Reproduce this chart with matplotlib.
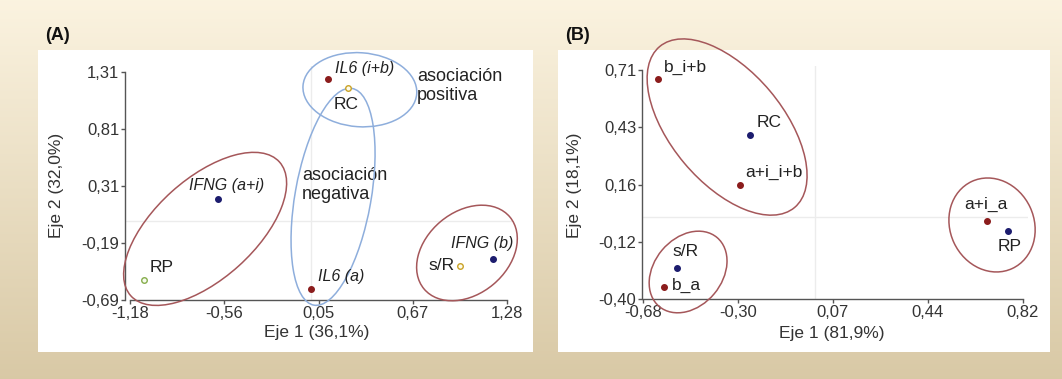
import numpy as np
import matplotlib
matplotlib.use("Agg")
import matplotlib.pyplot as plt
from matplotlib.patches import Ellipse, Rectangle
from matplotlib import transforms

plt.rcParams['font.family'] = ['Liberation Sans', 'DejaVu Sans']

# ---------------- Panel A data ----------------
a_labels = ["IL6 (i+b)", "RC", "IFNG (a+i)", "RP", "IL6 (a)", "IFNG (b)", "s/R"]
a_x = [0.11, 0.24, -0.605, -1.09, 0.00, 1.19, 0.975]
a_y = [1.25, 1.17, 0.195, -0.515, -0.59, -0.33, -0.39]
a_kind = ["il6", "rc", "ifng", "rp", "il6", "ifng", "rc"]
a_italic = [True, False, True, False, True, True, False]
a_xticks = [-1.18, -0.565, 0.05, 0.665, 1.28]
a_xticklabels = ["-1,18", "-0,56", "0,05", "0,67", "1,28"]
a_yticks = [-0.69, -0.19, 0.31, 0.81, 1.31]
a_yticklabels = ["-0,69", "-0,19", "0,31", "0,81", "1,31"]

# ---------------- Panel B data ----------------
b_labels = ["b_i+b", "RC", "a+i_i+b", "s/R", "b_a", "a+i_a", "RP"]
b_x = [-0.62, -0.257, -0.297, -0.546, -0.597, 0.68, 0.763]
b_y = [0.668, 0.396, 0.153, -0.25, -0.342, -0.021, -0.07]
b_kind = ["red", "blue", "red", "blue", "red", "red", "blue"]
b_xticks = [-0.68, -0.305, 0.07, 0.445, 0.82]
b_xticklabels = ["-0,68", "-0,30", "0,07", "0,44", "0,82"]
b_yticks = [-0.40, -0.1225, 0.155, 0.4325, 0.71]
b_yticklabels = ["-0,40", "-0,12", "0,16", "0,43", "0,71"]

# marker styles
styles = {
    "il6":  dict(mfc="#8b1c1c", mec="#8b1c1c"),
    "ifng": dict(mfc="#1c1c6e", mec="#1c1c6e"),
    "rc":   dict(mfc="#fffbe8", mec="#c9a227"),
    "rp":   dict(mfc="#f6fbef", mec="#86ad4c"),
    "red":  dict(mfc="#8b1c1c", mec="#8b1c1c"),
    "blue": dict(mfc="#1c1c6e", mec="#1c1c6e"),
}

# label offsets (points) and alignment
a_off = [(5, 7, "left"), (-1, -12, "center"), (6, 10, "center"), (4, 9, "left"),
         (5, 9, "left"), (-8, 11, "center"), (-4, 0, "right")]
b_off = [(4, 8, "left"), (5, 9, "left"), (4, 9, "left"), (-3, 12, "left"),
         (6, 1, "left"), (-1, 12, "center"), (1, -11, "center")]

# grouping ellipses: centre (data), width, height (inches), angle, colour
RED = "#a5575a"
BLUE = "#8eaedc"
a_ellipses = [((-0.69, -0.067), 2.00, 1.00, 42, RED),
              ((0.32, 1.152), 1.14, 0.74, -4, BLUE),
              ((0.145, 0.214), 2.20, 0.76, 80, BLUE),
              ((1.019, -0.278), 1.12, 0.82, 40, RED)]
b_ellipses = [((-0.348, 0.434), 2.10, 1.12, -50, RED),
              ((-0.502, -0.269), 0.90, 0.68, 50, RED),
              ((0.698, -0.041), 0.96, 0.84, -65, RED)]

W, H = 1062, 379
fig = plt.figure(figsize=(W / 100, H / 100), dpi=100)

# slide background
bg = fig.add_axes([0, 0, 1, 1], zorder=-10)
top = np.array([0.984, 0.953, 0.878])
bot = np.array([0.850, 0.788, 0.650])
t = np.linspace(0, 1, 256)[:, None]
grad = top[None, :] * (1 - t) + bot[None, :] * t
img = np.repeat(grad[:, None, :], 4, axis=1)
bg.imshow(img, aspect="auto", extent=[0, 1, 0, 1], origin="upper")
for (x0, x1) in [(38, 533), (558, 1050)]:
    bg.add_patch(Rectangle((x0 / W, 1 - 352 / H), (x1 - x0) / W, (352 - 50) / H,
                           facecolor="white", edgecolor="none"))
bg.set_xlim(0, 1)
bg.set_ylim(0, 1)
bg.axis("off")

fig.text(45 / W, 1 - 35 / H, "(A)", fontsize=13, fontweight="bold", va="center", color="#111")
fig.text(565 / W, 1 - 35 / H, "(B)", fontsize=13, fontweight="bold", va="center", color="#111")


def style_axes(ax, xticks, xtl, yticks, ytl, xlim, ylim):
    ax.set_facecolor("none")
    ax.set_xlim(*xlim)
    ax.set_ylim(*ylim)
    ax.set_xticks(xticks)
    ax.set_xticklabels(xtl)
    ax.set_yticks(yticks)
    ax.set_yticklabels(ytl)
    for s in ["top", "right"]:
        ax.spines[s].set_visible(False)
    for s in ["left", "bottom"]:
        ax.spines[s].set_color("#555555")
        ax.spines[s].set_linewidth(1.0)
    ax.spines["left"].set_bounds(yticks[0], yticks[-1])
    ax.spines["bottom"].set_bounds(xticks[0], xticks[-1])
    ax.tick_params(direction="out", length=3, width=1, color="#555555",
                   labelsize=12, labelcolor="#333333", pad=1)
    ax.axhline(0, color="#ececec", lw=1, zorder=0)
    ax.axvline(0, color="#ececec", lw=1, zorder=0)


def draw_points(ax, xs, ys, kinds, labels, offs, italic=None):
    for i, (x, y, k, lab, (dx, dy, ha)) in enumerate(zip(xs, ys, kinds, labels, offs)):
        ax.plot([x], [y], "o", ms=4, mew=1.0, zorder=5, **styles[k])
        it = italic[i] if italic is not None else False
        ax.annotate(lab, (x, y), xytext=(dx, dy), textcoords="offset points",
                    ha=ha, va="center", fontsize=11.5 if it else 12.5,
                    fontstyle="italic" if it else "normal", color="#222222",
                    zorder=6)


def draw_ellipses(ax, specs):
    for (cx, cy), w, h, ang, col in specs:
        tr = fig.dpi_scale_trans + transforms.ScaledTranslation(cx, cy, ax.transData)
        e = Ellipse((0, 0), w, h, angle=ang, transform=tr, fill=False,
                    edgecolor=col, lw=1.1, clip_on=False, zorder=4)
        ax.add_patch(e)


# ---------------- Panel A ----------------
axA = fig.add_axes([125 / W, 1 - 300 / H, 387 / W, 234 / H])
style_axes(axA, a_xticks, a_xticklabels, a_yticks, a_yticklabels,
           (-1.213, 1.313), (-0.69, 1.36))
draw_ellipses(axA, a_ellipses)
draw_points(axA, a_x, a_y, a_kind, a_labels, a_off, a_italic)
axA.set_xlabel("Eje 1 (36,1%)", fontsize=12.5, color="#333333", va="center")
axA.xaxis.set_label_coords(0.496, -0.141)
axA.set_ylabel("Eje 2 (32,0%)", fontsize=12.5, color="#333333", va="center")
axA.yaxis.set_label_coords(-0.176, 0.49)
axA.text(0.7545, 0.9145, "asociación\npositiva", transform=axA.transAxes,
         fontsize=13, color="#222222", va="center", ha="left", linespacing=1.15)
axA.text(0.457, 0.491, "asociación\nnegativa", transform=axA.transAxes,
         fontsize=13, color="#222222", va="center", ha="left", linespacing=1.15)

# ---------------- Panel B ----------------
axB = fig.add_axes([642 / W, 1 - 299 / H, 386 / W, 233 / H])
style_axes(axB, b_xticks, b_xticklabels, b_yticks, b_yticklabels,
           (-0.684, 0.84), (-0.40, 0.73))
draw_ellipses(axB, b_ellipses)
draw_points(axB, b_x, b_y, b_kind, b_labels, b_off)
axB.set_xlabel("Eje 1 (81,9%)", fontsize=12.5, color="#333333", va="center")
axB.xaxis.set_label_coords(0.492, -0.146)
axB.set_ylabel("Eje 2 (18,1%)", fontsize=12.5, color="#333333", va="center")
axB.yaxis.set_label_coords(-0.174, 0.49)

fig.savefig("out.png", dpi=100)
